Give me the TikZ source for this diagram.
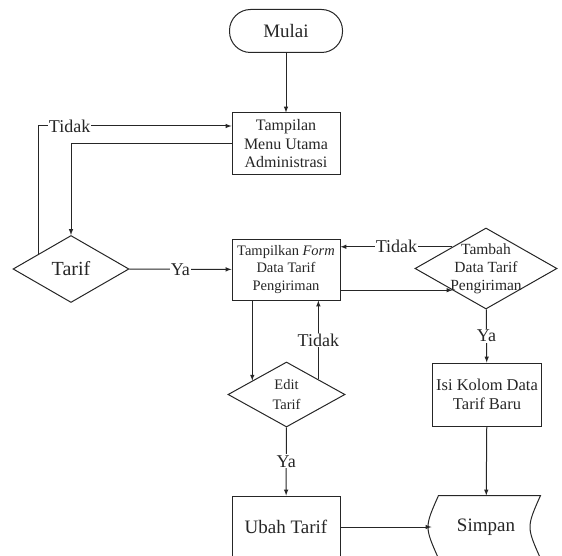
\documentclass[tikz,border=0pt]{standalone}
\usepackage{fontspec}
\setmainfont{LiberationSerif}[Extension=.ttf,UprightFont=*-Regular,ItalicFont=*-Italic,BoldFont=*-Bold,BoldItalicFont=*-BoldItalic]
\usetikzlibrary{arrows,shapes.geometric,calc}

\begin{document}
\begin{tikzpicture}[x=1pt,y=-1pt,line width=1pt,color=black!85,>=latex,
    proses/.style={draw,minimum width=108pt,minimum height=62pt,align=center,inner sep=1pt,font=\fontsize{16}{18.5}\selectfont},
    keputusan/.style={draw,diamond,inner sep=0pt},
    ket/.style={fill=white,inner sep=1pt,font=\fontsize{18}{20}\selectfont}]
          \path[use as bounding box,clip] (0,0) rectangle (562,556);
          \node[draw,rounded corners=21pt,minimum width=113pt,minimum height=43pt,font=\fontsize{19}{20}\selectfont] (mulai) at (286,31) {Mulai};
          \node[proses] (menu) at (286,144) {Tampilan\\Menu Utama\\Administrasi};
          \node[keputusan,minimum width=116pt,minimum height=67pt,label={[font=\fontsize{20}{20}\selectfont]center:Tarif}] (tarif) at (71,269) {};
          \node[proses,minimum height=61pt,font=\fontsize{14.5}{17.5}\selectfont] (form) at (286,269.5) {Tampilkan \textit{Form}\\Data Tarif\\Pengiriman};
          \node[keputusan,minimum width=142pt,minimum height=81pt,label={[align=center,font=\fontsize{15.5}{18}\selectfont]center:Tambah\\Data Tarif\\Pengiriman}] (tambah) at (486,268.5) {};
          \node[keputusan,minimum width=117pt,minimum height=65pt,label={[align=center,font=\fontsize{14.5}{20}\selectfont]center:Edit\\Tarif}] (edit) at (286.5,394.5) {};
          \node[proses,minimum width=109pt,minimum height=63pt,font=\fontsize{16.5}{19}\selectfont] (isi) at (487,394.5) {Isi Kolom Data\\Tarif Baru};
          \node[proses,font=\fontsize{19}{20}\selectfont] (ubah) at (286,527) {Ubah Tarif};
          \node[minimum width=108pt,minimum height=62pt,font=\fontsize{19}{20}\selectfont] (simpan) at (486,527) {Simpan};
          % simpan (stored data)
          \draw ([xshift=7pt]simpan.north west) -- (simpan.north east)
            .. controls ($(simpan.east)+(-14,0)$) .. (simpan.south east)
            -- ([xshift=7pt]simpan.south west)
            .. controls ([xshift=-7pt]simpan.west) .. cycle;
          % alur
          \draw[->] (mulai) -- (menu);
          \coordinate (t1) at ($(tarif.west)!0.45!(tarif.north)$);
          \draw[->] (t1) |- node[ket,pos=0.58] {Tidak} ([yshift=18pt]menu.west);
          \draw[->] (menu.west) -| (tarif.north);
          \draw[->] (tarif) -- node[ket] {Ya} (form);
          \coordinate (t2) at ($(tambah.west)!0.53!(tambah.north)$);
          \draw[->] (t2) -- node[ket] {Tidak} (t2 -| form.east);
          \coordinate (t3) at ($(tambah.west)!0.53!(tambah.south)$);
          \draw[->] (t3 -| form.east) -- (t3);
          \coordinate (e1) at ($(edit.west)!0.42!(edit.north)$);
          \draw[->] (e1 |- form.south) -- (e1);
          \coordinate (e2) at ($(edit.east)!0.46!(edit.north)$);
          \draw[->] (e2) -- node[ket] {Tidak} (e2 |- form.south);
          \draw[->] (edit) -- node[ket] {Ya} (ubah);
          \draw[->] (tambah) -- node[ket] {Ya} (isi);
          \draw[->] (isi) -- (simpan);
          \draw[->] (ubah) -- (simpan);
        \end{tikzpicture}
\end{document}
